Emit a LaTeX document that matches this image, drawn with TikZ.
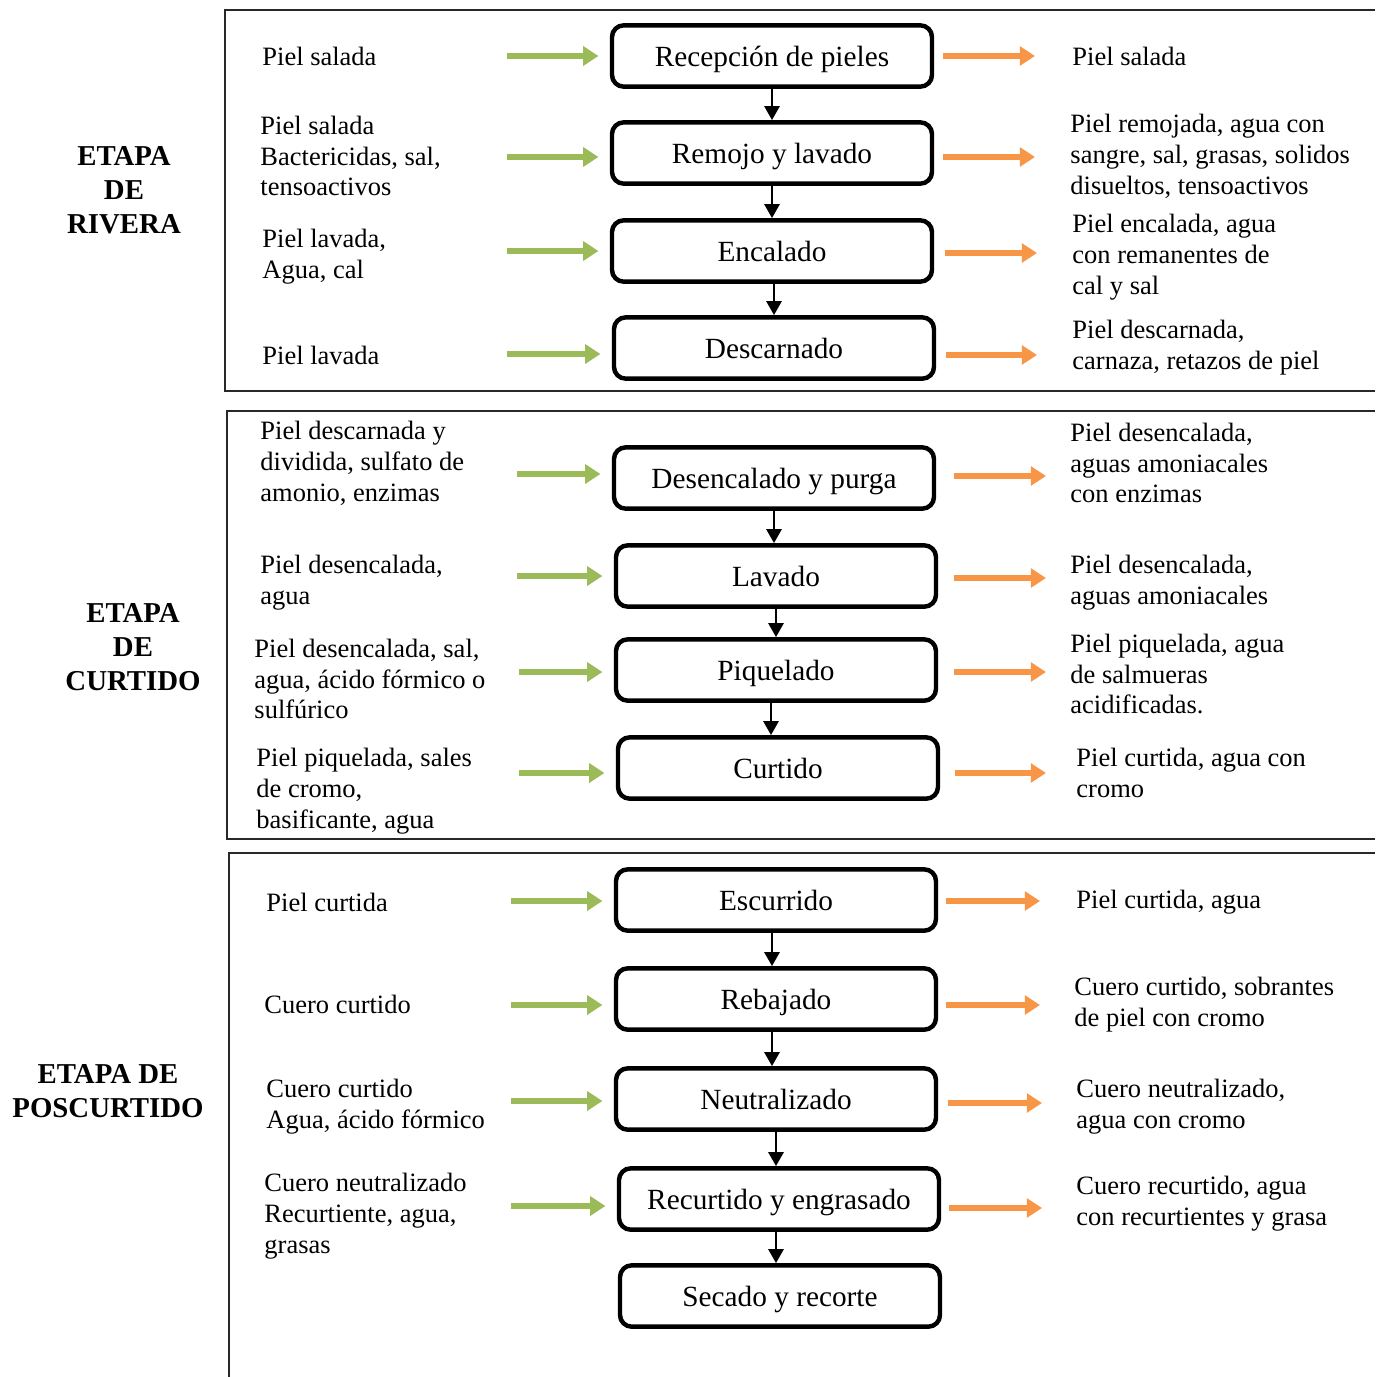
\documentclass[tikz,border=0pt]{standalone}
\usepackage{fontspec}
\setmainfont{Liberation Serif}
\usepackage{tikz}
\usetikzlibrary{
    arrows.meta,
    calc,
    positioning
}
\definecolor{entrada}{RGB}{155,187,89}
\definecolor{salida}{RGB}{247,150,70}
\definecolor{marco}{RGB}{40,40,40}

\begin{document}
\begin{tikzpicture}[x=0.015cm, y=-0.015cm,
    paso/.style={draw, line width=1.9pt, rounded corners=5pt, minimum width=4.8cm,
        minimum height=0.92cm, inner sep=0pt, text height=10pt, text depth=1pt,
        font=\fontsize{12.5}{14}\selectfont},
    texto/.style={anchor=west, align=left, inner sep=0pt, font=\fontsize{11.3}{13.2}\selectfont},
    etapa/.style={align=center, inner sep=0pt, font=\fontsize{12.3}{14.5}\selectfont\bfseries},
    flujo/.style={line width=1pt, -{Triangle[length=6pt,width=6.5pt]}},
    flechain/.style={entrada, line width=2.2pt, -{Triangle[length=6.5pt,width=8pt]}, shorten >=1.7mm},
    flechaout/.style={salida, line width=2.2pt, -{Triangle[length=6.5pt,width=8pt]}}
]
    \useasboundingbox (0,0) rectangle (1375,1377);

    % Marcos de las etapas
    \draw[marco, line width=0.7pt] (1375,10) -- (225,10) -- (225,391) -- (1375,391);
    \draw[marco, line width=0.7pt] (1375,411) -- (227,411) -- (227,839) -- (1375,839);
    \draw[marco, line width=0.7pt] (1375,853) -- (229,853) -- (229,1377);

    % Etiquetas de etapa
    \node[etapa] (rivera) at (124,190) {ETAPA\\DE\\RIVERA};
    \node[etapa] (curtido) at (133,647) {ETAPA\\DE\\CURTIDO};
    \node[etapa] (poscurtido) at (108,1091) {ETAPA DE\\POSCURTIDO};

    % === Etapa de rivera ===
    \node[paso] (recepcion) at (772,56) {Recepción de pieles};
    \node[paso] (remojo) at (772,153) {Remojo y lavado};
    \node[paso] (encalado) at (772,251) {Encalado};
    \node[paso] (descarnado) at (774,348) {Descarnado};

    \node[texto] (e1) at (262,56) {Piel salada};
    \node[texto] (e2) at (260,156) {Piel salada\\Bactericidas, sal,\\tensoactivos};
    \node[texto] (e3) at (262,257) {Piel lavada,\\Agua, cal};
    \node[texto] (e4) at (262,355) {Piel lavada};

    \node[texto] (s1) at (1072,56) {Piel salada};
    \node[texto] (s2) at (1070,156) {Piel remojada, agua con\\sangre, sal, grasas, solidos\\disueltos, tensoactivos};
    \node[texto] (s3) at (1072,257) {Piel encalada, agua\\con remanentes de\\cal y sal};
    \node[texto] (s4) at (1072,348) {Piel descarnada,\\carnaza, retazos de piel};

    \coordinate (i1) at (507,56);
    \coordinate (i2) at (507,157);
    \coordinate (i3) at (507,251);
    \coordinate (i4) at (507,354);
    \coordinate (o1) at (1035,56);
    \coordinate (o2) at (1035,157);
    \coordinate (o3) at (1037,253);
    \coordinate (o4) at (1037,355);

    \draw[flechain] (i1) -- (recepcion.west |- i1);
    \draw[flechain] (i2) -- (remojo.west |- i2);
    \draw[flechain] (i3) -- (encalado.west |- i3);
    \draw[flechain] (i4) -- (descarnado.west |- i4);
    \draw[flechaout] ($(recepcion.east |- o1)+(9,0)$) -- (o1);
    \draw[flechaout] ($(remojo.east |- o2)+(9,0)$) -- (o2);
    \draw[flechaout] ($(encalado.east |- o3)+(11,0)$) -- (o3);
    \draw[flechaout] ($(descarnado.east |- o4)+(10,0)$) -- (o4);

    \draw[flujo] (recepcion.south) -- (remojo.north);
    \draw[flujo] (remojo.south) -- (encalado.north);
    \draw[flujo] ($(encalado.south)+(2,0)$) -- (descarnado.north);

    % === Etapa de curtido ===
    \node[paso] (desencalado) at (774,478) {Desencalado y purga};
    \node[paso] (lavado) at (776,576) {Lavado};
    \node[paso] (piquelado) at (776,670) {Piquelado};
    \node[paso] (curtidopaso) at (778,768) {Curtido};

    \node[texto] (e5) at (260,463) {Piel descarnada y\\dividida, sulfato de\\amonio, enzimas};
    \node[texto] (e6) at (260,583) {Piel desencalada,\\agua};
    \node[texto] (e7) at (254,679) {Piel desencalada, sal,\\agua, ácido fórmico o\\sulfúrico};
    \node[texto] (e8) at (256,791) {Piel piquelada, sales\\de cromo,\\basificante, agua};

    \node[texto] (s5) at (1070,463) {Piel desencalada,\\aguas amoniacales\\con enzimas};
    \node[texto] (s6) at (1070,583) {Piel desencalada,\\aguas amoniacales};
    \node[texto] (s7) at (1070,674) {Piel piquelada, agua\\de salmueras\\acidificadas.};
    \node[texto] (s8) at (1076,773) {Piel curtida, agua con\\cromo};

    \coordinate (i5) at (517,474);
    \coordinate (i6) at (517,576);
    \coordinate (i7) at (519,672);
    \coordinate (i8) at (519,773);
    \coordinate (o5) at (1046,476);
    \coordinate (o6) at (1046,578);
    \coordinate (o7) at (1046,672);
    \coordinate (o8) at (1046,773);

    \draw[flechain] (i5) -- (desencalado.west |- i5);
    \draw[flechain] (i6) -- (lavado.west |- i6);
    \draw[flechain] (i7) -- (piquelado.west |- i7);
    \draw[flechain] (i8) -- (curtidopaso.west |- i8);
    \draw[flechaout] ($(desencalado.east |- o5)+(18,0)$) -- (o5);
    \draw[flechaout] ($(lavado.east |- o6)+(16,0)$) -- (o6);
    \draw[flechaout] ($(piquelado.east |- o7)+(16,0)$) -- (o7);
    \draw[flechaout] ($(curtidopaso.east |- o8)+(15,0)$) -- (o8);

    \draw[flujo] (desencalado.south) -- (desencalado.south |- lavado.north);
    \draw[flujo] (lavado.south) -- (piquelado.north);
    \draw[flujo] ($(piquelado.south)+(-5,0)$) -- ($(curtidopaso.north)+(-7,0)$);

    % === Etapa de poscurtido ===
    \node[paso] (escurrido) at (776,900) {Escurrido};
    \node[paso] (rebajado) at (776,999) {Rebajado};
    \node[paso] (neutralizado) at (776,1099) {Neutralizado};
    \node[paso] (recurtido) at (779,1199) {Recurtido y engrasado};
    \node[paso] (secado) at (780,1296) {Secado y recorte};

    \node[texto] (e9) at (266,902) {Piel curtida};
    \node[texto] (e10) at (264,1004) {Cuero curtido};
    \node[texto] (e11) at (266,1107) {Cuero curtido\\Agua, ácido fórmico};
    \node[texto] (e12) at (264,1216) {Cuero neutralizado\\Recurtiente, agua,\\grasas};

    \node[texto] (s9) at (1076,902) {Piel curtida, agua};
    \node[texto] (s10) at (1074,1005) {Cuero curtido, sobrantes\\de piel con cromo};
    \node[texto] (s11) at (1076,1107) {Cuero neutralizado,\\agua con cromo};
    \node[texto] (s12) at (1076,1204) {Cuero recurtido, agua\\con recurtientes y grasa};

    \coordinate (i9) at (511,901);
    \coordinate (i10) at (511,1005);
    \coordinate (i11) at (511,1101);
    \coordinate (i12) at (511,1206);
    \coordinate (o9) at (1040,901);
    \coordinate (o10) at (1040,1005);
    \coordinate (o11) at (1042,1103);
    \coordinate (o12) at (1042,1208);

    \draw[flechain] (i9) -- (escurrido.west |- i9);
    \draw[flechain] (i10) -- (rebajado.west |- i10);
    \draw[flechain] (i11) -- (neutralizado.west |- i11);
    \draw[flechain] (i12) -- (recurtido.west |- i12);
    \draw[flechaout] ($(escurrido.east |- o9)+(8,0)$) -- (o9);
    \draw[flechaout] ($(rebajado.east |- o10)+(8,0)$) -- (o10);
    \draw[flechaout] ($(neutralizado.east |- o11)+(10,0)$) -- (o11);
    \draw[flechaout] ($(recurtido.east |- o12)+(8,0)$) -- (o12);

    \draw[flujo] ($(escurrido.south)+(-4,0)$) -- ($(rebajado.north)+(-4,0)$);
    \draw[flujo] ($(rebajado.south)+(-4,0)$) -- ($(neutralizado.north)+(-4,0)$);
    \draw[flujo] (neutralizado.south) -- (neutralizado.south |- recurtido.north);
    \draw[flujo] ($(recurtido.south)+(-3,0)$) -- ($(secado.north)+(-4,0)$);
\end{tikzpicture}
\end{document}
